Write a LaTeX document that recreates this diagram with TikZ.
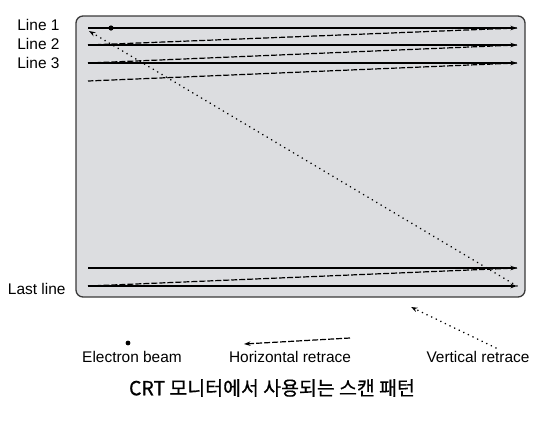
\documentclass[tikz,border=0pt]{standalone}
\usepackage{fontspec}
\setmainfont{Liberation Sans}
\newfontfamily\krfont{Noto Sans CJK KR}[FakeBold=0.6]
\usetikzlibrary{arrows.meta}
\definecolor{screengray}{HTML}{DCDDE0}
\definecolor{edgegray}{HTML}{3A3A3A}
\begin{document}
\begin{tikzpicture}[x=1bp, y=-1bp, font=\fontsize{15.5}{17}\selectfont, line join=round, >={Stealth[length=6.5bp,width=4.5bp]},
 scan/.style={line width=1.3bp},
 hretrace/.style={line width=1.2bp, dash pattern=on 6bp off 2bp},
 vretrace/.style={line width=1.7bp, dash pattern=on 0.1bp off 5bp, line cap=round}]
 \useasboundingbox (0,0) rectangle (550,420);
 \draw[edgegray, fill=screengray, line width=1.3bp, rounded corners=7bp] (76,16) rectangle (525,297);
 % scan lines and horizontal retraces
 \foreach \y/\n in {28/1,45/2,63/3,268/4,286/5} {
  \coordinate (l\n) at (88,\y); \coordinate (r\n) at (517,\y);
  \draw[scan,->] (l\n) -- (r\n);}
 \coordinate (l6) at (88,81);
 \foreach \a/\b in {1/2,2/3,3/6,4/5} \draw[hretrace] (r\a) -- (l\b);
 % vertical retrace
 \coordinate (vtop) at (89,31);
 \draw[vretrace,->] (r5) -- (vtop);
 \fill (111,28) circle (2.6);
 % line labels
 \foreach \y/\t in {25/Line 1,44/Line 2,63/Line 3} \node[anchor=east] (lab\y) at (63,\y) {\t};
 \node[anchor=east] (labLast) at (69,289) {Last line};
 % legend
 \fill (128,343) circle (2.4);
 \node (beam) at (132,357) {Electron beam};
 \coordinate (h1) at (350,338); \coordinate (h2) at (244,344);
 \draw[hretrace,->] (h1) -- (h2);
 \node (hor) at (290,357) {Horizontal retrace};
 \coordinate (v1) at (496,348); \coordinate (v2) at (411,307);
 \draw[vretrace,->] (v1) -- (v2);
 \node (ver) at (478,357) {Vertical retrace};
 \node[font=\krfont\fontsize{19.5}{22}\selectfont] (cap) at (272,388) {CRT 모니터에서 사용되는 스캔 패턴};
\end{tikzpicture}
\end{document}
